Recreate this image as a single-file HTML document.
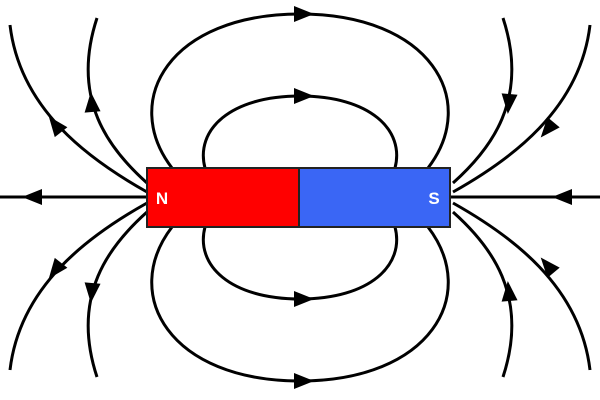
<!DOCTYPE html>
<html><head><style>html,body{margin:0;padding:0;background:#fff;width:600px;height:400px;overflow:hidden}</style></head>
<body>
<svg width="600" height="400" viewBox="0 0 600 400" xmlns="http://www.w3.org/2000/svg">
<defs>
<g id="q" fill="none" stroke="#000" stroke-width="3">
<path d="M172,168 C120,100 170,14 300,14"/>
<path d="M205,168 C195,130 230,96 300,96"/>
<path d="M147,192 C90,160 20,110 10,25"/>
<path d="M147,183 C110,150 70,100 97,18"/>
</g>
<path id="a" d="M2,0 L-18,-8 L-18,8 Z" fill="#000"/>
</defs>
<use href="#q"/>
<use href="#q" transform="translate(600,0) scale(-1,1)"/>
<use href="#q" transform="translate(0,395) scale(1,-1)"/>
<use href="#q" transform="translate(600,395) scale(-1,-1)"/>
<line x1="0" y1="197" x2="600" y2="197" stroke="#000" stroke-width="3"/>
<rect x="147" y="168" width="152" height="59" fill="#f00" stroke="#222" stroke-width="2"/>
<rect x="299" y="168" width="151" height="59" fill="#3a66f5" stroke="#222" stroke-width="2"/>
<text x="162" y="204" font-family="Liberation Sans, sans-serif" font-weight="bold" font-size="17" fill="#fff" text-anchor="middle">N</text>
<text x="434" y="204" font-family="Liberation Sans, sans-serif" font-weight="bold" font-size="17" fill="#fff" text-anchor="middle">S</text>
<use href="#a" transform="translate(312,14)"/>
<use href="#a" transform="translate(312,96)"/>
<use href="#a" transform="translate(312,299)"/>
<use href="#a" transform="translate(312,381)"/>
<use href="#a" transform="translate(24,197) rotate(180)"/>
<use href="#a" transform="translate(554,197) rotate(180)"/>
<use href="#a" transform="translate(50,118) rotate(-128)"/>
<use href="#a" transform="translate(91,94) rotate(-95)"/>
<use href="#a" transform="translate(50,277) rotate(128)"/>
<use href="#a" transform="translate(91,301) rotate(95)"/>
<use href="#a" transform="translate(542,136) rotate(130)"/>
<use href="#a" transform="translate(508,112) rotate(95)"/>
<use href="#a" transform="translate(542,259) rotate(-130)"/>
<use href="#a" transform="translate(508,283) rotate(-95)"/>
</svg>
</body></html>
